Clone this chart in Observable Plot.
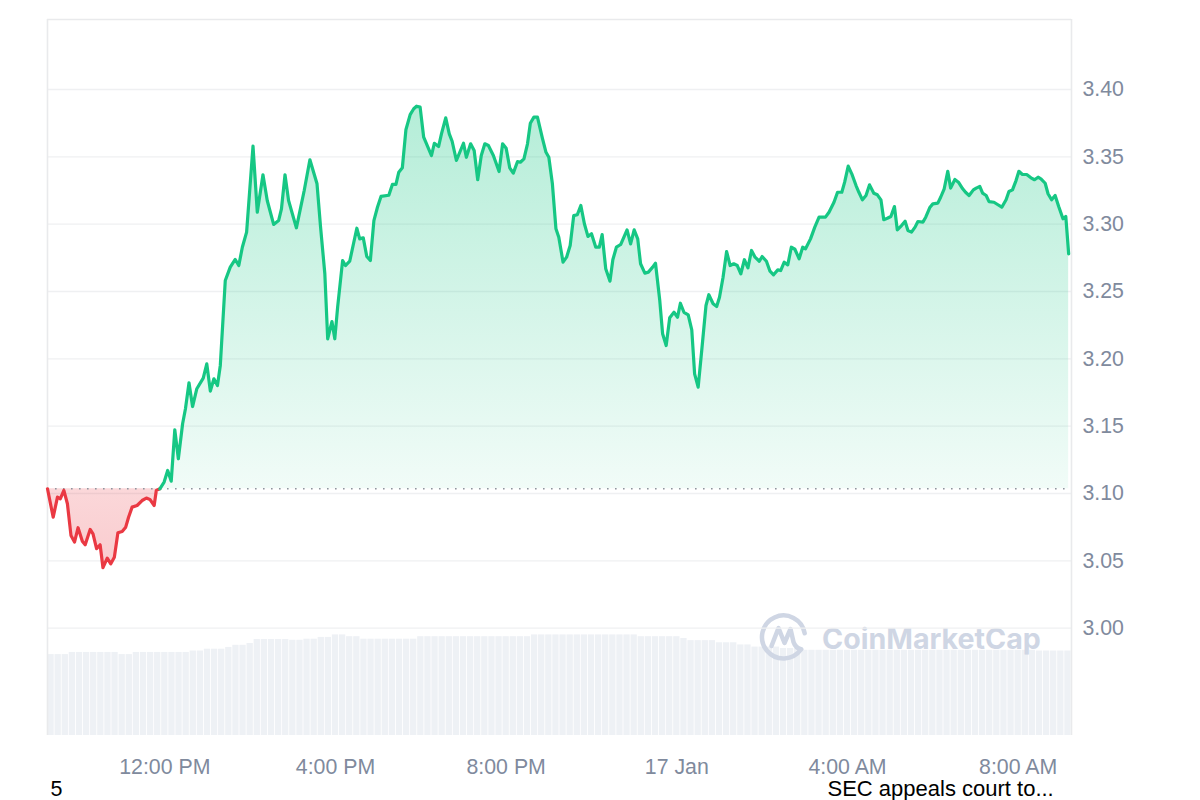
<!DOCTYPE html>
<html><head><meta charset="utf-8">
<script src="https://cdn.jsdelivr.net/npm/d3@7"></script>
<script src="https://cdn.jsdelivr.net/npm/@observablehq/plot@0.6"></script>
<style>
html,body{margin:0;padding:0;background:#fff;}
#wrap{position:relative;width:1200px;height:800px;overflow:hidden;}
#wrap > svg{position:absolute;left:0;top:0;}
</style></head><body><div id="wrap"></div>
<script>
// ---- data ----
const startTime = Date.UTC(2025, 0, 16, 9, 15);   // left edge of the chart
const endTime = Date.UTC(2025, 0, 17, 9, 15);     // right edge of the chart

// minutes after startTime
const minutes = [
  0, 8, 14, 18, 23, 28, 33, 38, 43, 49,
  53, 60, 64, 69, 74, 78, 84, 89, 94, 99,
  105, 110, 114, 119, 126, 133, 139, 144, 150, 153,
  158, 164, 169, 174, 179, 184, 190, 194, 199, 204,
  210, 219, 224, 229, 234, 239, 243, 250, 257, 264,
  269, 274, 280, 289, 295, 303, 309, 318, 325, 329,
  334, 339, 350, 361, 369, 379, 384, 390, 394, 400,
  404, 408, 415, 419, 425, 435, 439, 444, 449, 454,
  459, 464, 469, 480, 485, 490, 494, 499, 504, 510,
  515, 519, 524, 529, 540, 544, 550, 554, 560, 565,
  569, 575, 585, 589, 595, 600, 605, 610, 615, 620,
  627, 635, 640, 645, 650, 655, 661, 665, 670, 675,
  679, 684, 689, 696, 701, 705, 710, 715, 719, 725,
  730, 735, 740, 745, 750, 755, 760, 765, 771, 776,
  780, 785, 791, 795, 800, 806, 815, 820, 825, 830,
  834, 840, 845, 851, 855, 861, 865, 870, 875, 881,
  886, 890, 895, 901, 906, 910, 915, 920, 926, 930,
  936, 941, 945, 950, 955, 960, 965, 970, 975, 980,
  985, 990, 995, 1001, 1005, 1011, 1016, 1021, 1027, 1031,
  1036, 1041, 1046, 1051, 1057, 1062, 1066, 1073, 1079, 1085,
  1094, 1099, 1106, 1111, 1117, 1121, 1126, 1131, 1137, 1141,
  1146, 1151, 1156, 1162, 1167, 1172, 1176, 1181, 1186, 1191,
  1195, 1201, 1206, 1210, 1215, 1220, 1224, 1231, 1235, 1241,
  1245, 1252, 1256, 1261, 1266, 1270, 1276, 1281, 1287, 1291,
  1296, 1302, 1306, 1311, 1315, 1320, 1324, 1331, 1336, 1342,
  1348, 1352, 1357, 1362, 1366, 1371, 1377, 1383, 1388, 1393,
  1397, 1403, 1407, 1412, 1417, 1422, 1428, 1432, 1436
];

// price (USD)
const prices = [
  3.1035, 3.0824, 3.0973, 3.0961, 3.1023, 3.0924, 3.0689, 3.0639, 3.0746, 3.0646,
  3.0619, 3.0733, 3.0701, 3.0590, 3.0619, 3.0449, 3.0520, 3.0478, 3.0527, 3.0709,
  3.0718, 3.0750, 3.0824, 3.0899, 3.0911, 3.0948, 3.0966, 3.0956, 3.0911, 3.1023,
  3.1035, 3.1085, 3.1171, 3.1092, 3.1473, 3.1258, 3.1518, 3.1629, 3.1822, 3.1646,
  3.1778, 3.1857, 3.1963, 3.1760, 3.1852, 3.1802, 3.1951, 3.2582, 3.2681, 3.2738,
  3.2693, 3.2829, 3.2941, 3.3579, 3.3089, 3.3367, 3.3176, 3.2998, 3.3027, 3.3114,
  3.3367, 3.3176, 3.2973, 3.3250, 3.3478, 3.3300, 3.2978, 3.2632, 3.2149, 3.2277,
  3.2149, 3.2384, 3.2730, 3.2693, 3.2725, 3.2970, 3.2891, 3.2899, 3.2760, 3.2730,
  3.3027, 3.3126, 3.3206, 3.3215, 3.3295, 3.3295, 3.3386, 3.3419, 3.3701, 3.3814,
  3.3857, 3.3876, 3.3869, 3.3646, 3.3510, 3.3601, 3.3577, 3.3671, 3.3790, 3.3671,
  3.3616, 3.3473, 3.3601, 3.3497, 3.3597, 3.3547, 3.3330, 3.3510, 3.3597, 3.3584,
  3.3510, 3.3391, 3.3597, 3.3564, 3.3419, 3.3379, 3.3465, 3.3460, 3.3485, 3.3597,
  3.3750, 3.3795, 3.3795, 3.3638, 3.3534, 3.3497, 3.3300, 3.2966, 3.2903, 3.2718,
  3.2755, 3.2842, 3.3064, 3.3070, 3.3139, 3.3003, 3.2909, 3.2929, 3.2829, 3.2829,
  3.2923, 3.2669, 3.2577, 3.2736, 3.2829, 3.2849, 3.2958, 3.2854, 3.2958, 3.2891,
  3.2706, 3.2636, 3.2644, 3.2681, 3.2710, 3.2433, 3.2186, 3.2099, 3.2305, 3.2346,
  3.2309, 3.2413, 3.2346, 3.2327, 3.2216, 3.1889, 3.1790, 3.2062, 3.2396, 3.2476,
  3.2409, 3.2389, 3.2458, 3.2606, 3.2797, 3.2693, 3.2706, 3.2693, 3.2632, 3.2736,
  3.2676, 3.2805, 3.2755, 3.2725, 3.2760, 3.2725, 3.2651, 3.2624, 3.2661, 3.2656,
  3.2718, 3.2698, 3.2829, 3.2814, 3.2743, 3.2829, 3.2817, 3.2891, 3.2978, 3.3052,
  3.3052, 3.3089, 3.3163, 3.3237, 3.3237, 3.3312, 3.3431, 3.3374, 3.3287, 3.3237,
  3.3181, 3.3213, 3.3292, 3.3230, 3.3218, 3.3181, 3.3033, 3.3044, 3.3057, 3.3131,
  3.2958, 3.2990, 3.3022, 3.2953, 3.2941, 3.2978, 3.3020, 3.3015, 3.3052, 3.3126,
  3.3151, 3.3156, 3.3200, 3.3263, 3.3393, 3.3268, 3.3332, 3.3312, 3.3263, 3.3237,
  3.3213, 3.3255, 3.3268, 3.3280, 3.3230, 3.3213, 3.3168, 3.3163, 3.3146, 3.3126,
  3.3181, 3.3243, 3.3255, 3.3324, 3.3393, 3.3369, 3.3369, 3.3344, 3.3330, 3.3349,
  3.3337, 3.3304, 3.3226, 3.3181, 3.3213, 3.3131, 3.3040, 3.3057, 3.2780
];

// 24h trading volume, one value per 10-minute bucket (relative units)
const volumes = [
  11.3, 11.3, 11.3, 11.6, 11.6, 11.6, 11.6, 11.6, 11.6, 11.6,
  11.3, 11.3, 11.6, 11.6, 11.6, 11.6, 11.6, 11.6, 11.6, 11.6,
  11.8, 11.8, 12.05, 12.05, 12.05, 12.3, 12.6, 12.6, 12.85, 13.4,
  13.4, 13.4, 13.4, 13.4, 13.3, 13.3, 13.45, 13.45, 13.7, 13.7,
  14.05, 14.05, 13.8, 13.8, 13.45, 13.45, 13.45, 13.45, 13.45, 13.45,
  13.45, 13.45, 13.8, 13.8, 13.8, 13.8, 13.8, 13.8, 13.8, 13.8,
  13.8, 13.8, 13.8, 13.8, 13.8, 13.8, 13.8, 13.8, 14.05, 14.05,
  14.05, 14.05, 14.05, 14.05, 14.05, 14.05, 14.05, 14.05, 14.05, 14.05,
  14.05, 14.05, 14.05, 13.8, 13.8, 13.8, 13.8, 13.8, 13.8, 13.55,
  13.25, 13.25, 13.25, 13.25, 12.95, 12.95, 12.95, 12.65, 12.65, 12.35,
  12.35, 12.35, 12.35, 12.15, 12.15, 12.15, 11.9, 11.9, 11.9, 11.9,
  11.9, 11.9, 11.9, 11.9, 11.9, 11.9, 11.9, 11.9, 11.9, 11.9,
  11.9, 11.9, 11.9, 11.9, 11.9, 11.9, 11.9, 11.9, 11.9, 11.9,
  11.9, 11.9, 11.9, 11.9, 11.9, 11.9, 11.9, 11.9, 11.9, 11.8,
  11.8, 11.8, 11.8, 11.8
];

const yTicks = [3.00, 3.05, 3.10, 3.15, 3.20, 3.25, 3.30, 3.35, 3.40];
const xTickTimes = ["2025-01-16T12:00Z", "2025-01-16T16:00Z", "2025-01-16T20:00Z",
                    "2025-01-17T00:00Z", "2025-01-17T04:00Z", "2025-01-17T08:00Z"];
const xTickLabels = ["12:00 PM", "4:00 PM", "8:00 PM", "17 Jan", "4:00 AM", "8:00 AM"];
const footerLeft = "5";
const footerNews = "SEC appeals court to...";
const watermark = "CoinMarketCap";

// ---- layout / style ----
const W = 1200, H = 800;
const M = {left: 47, right: 129, top: 19, bottom: 65};
const yDomain = [2.9203, 3.452];
const GREEN = "#16c784", RED = "#ea3943", TICK = "#808a9d";
const FONT = "'Liberation Sans', Arial, Helvetica, sans-serif";

const data = minutes.map((m, i) => ({time: new Date(startTime + m * 60000), price: prices[i]}));
const baseline = prices[0];
let lastBelow = -1;
data.forEach((d, i) => { if (d.price < baseline) lastBelow = i; });
const redPart = data.slice(0, lastBelow + 2);
const greenPart = data.slice(lastBelow + 1);
const tickDates = xTickTimes.map(s => new Date(s));
const tickLabel = new Map(tickDates.map((d, i) => [+d, xTickLabels[i]]));
const xDomain = [new Date(startTime), new Date(endTime)];
const bucket = 10 * 60000;

const wrap = document.getElementById("wrap");

// volume layer
const volPlot = Plot.plot({
  width: W, height: H,
  marginLeft: M.left, marginRight: M.right, marginTop: M.top, marginBottom: M.bottom,
  x: {type: "utc", domain: xDomain, axis: null},
  y: {domain: [0, 100], axis: null},
  style: {background: "transparent"},
  marks: [
    Plot.rectY(volumes, {
      x1: (d, i) => new Date(startTime + i * bucket),
      x2: (d, i) => new Date(startTime + (i + 1) * bucket),
      y: d => d,
      fill: "#eef1f5",
      insetLeft: 0.4, insetRight: 0.4
    })
  ]
});
wrap.appendChild(volPlot);

// watermark layer
const wm = d3.create("svg").attr("width", W).attr("height", H);
const logo = wm.append("g").attr("transform", "translate(783.5,637)")
  .attr("fill", "none").attr("stroke", "#cfd6e4").attr("stroke-width", 4.5)
  .attr("stroke-linecap", "round").attr("stroke-linejoin", "round");
logo.append("path").attr("d", "M 17.6 12.3 A 21.5 21.5 0 1 1 21.2 -3.7");
logo.append("path").attr("d", "M -12 9 L -5 -9 L 1 6 L 7 -8 L 10 5 Q 12 11 17.6 12.3");
wm.append("text").attr("x", 822).attr("y", 649)
  .attr("font-family", "Inter, 'Liberation Sans', sans-serif").attr("font-weight", 700)
  .attr("font-size", 28.6).attr("fill", "#cfd6e4").text(watermark);
wrap.appendChild(wm.node());

// price layer
const defs = () => {
  const g = d3.create("svg:defs");
  const gg = g.append("linearGradient").attr("id", "gGreen").attr("x1", 0).attr("x2", 0).attr("y1", 0).attr("y2", 1);
  gg.append("stop").attr("offset", 0).attr("stop-color", GREEN).attr("stop-opacity", 0.32);
  gg.append("stop").attr("offset", 1).attr("stop-color", GREEN).attr("stop-opacity", 0.06);
  const gr = g.append("linearGradient").attr("id", "gRed").attr("x1", 0).attr("x2", 0).attr("y1", 0).attr("y2", 1);
  gr.append("stop").attr("offset", 0).attr("stop-color", RED).attr("stop-opacity", 0.2);
  gr.append("stop").attr("offset", 1).attr("stop-color", RED).attr("stop-opacity", 0.26);
  return g.node();
};

const pricePlot = Plot.plot({
  width: W, height: H,
  marginLeft: M.left, marginRight: M.right, marginTop: M.top, marginBottom: M.bottom,
  x: {type: "utc", domain: xDomain},
  y: {domain: yDomain},
  style: {background: "transparent", fontFamily: FONT, fontSize: "21px", overflow: "visible"},
  marks: [
    defs,
    Plot.ruleY(yTicks, {stroke: "#eff0f2", strokeWidth: 1.3}),
    Plot.ruleY([yDomain[1]], {stroke: "#e9eaec", strokeWidth: 1.6}),
    Plot.ruleX(xDomain, {stroke: "#e9eaec", strokeWidth: 1.6}),
    Plot.areaY(data, {x: "time", y1: baseline, y2: d => Math.max(d.price, baseline), fill: "url(#gGreen)", curve: "linear"}),
    Plot.areaY(data, {x: "time", y1: baseline, y2: d => Math.min(d.price, baseline), fill: "url(#gRed)", curve: "linear"}),
    Plot.ruleY([baseline], {x1: xDomain[0], x2: data[data.length - 1].time, stroke: "#8f959e", strokeWidth: 1.6, strokeDasharray: "1.6,6.4"}),
    Plot.line(redPart, {x: "time", y: "price", stroke: RED, strokeWidth: 3.2, strokeLinejoin: "round", strokeLinecap: "round"}),
    Plot.line(greenPart, {x: "time", y: "price", stroke: GREEN, strokeWidth: 3.2, strokeLinejoin: "round", strokeLinecap: "round"}),
    Plot.axisY(yTicks, {anchor: "right", tickSize: 0, tickPadding: 11, tickFormat: d3.format(".2f"), color: TICK, fill: TICK, label: null, fontSize: 21.3}),
    Plot.axisX(tickDates, {anchor: "bottom", tickSize: 0, tickPadding: 23, tickFormat: d => tickLabel.get(+d), color: TICK, fill: TICK, label: null, fontSize: 21.3}),
    Plot.text([footerLeft], {frameAnchor: "bottom-left", dx: 3, dy: 60, textAnchor: "start", lineAnchor: "bottom", fill: "#000", fontSize: 21.5}),
    Plot.text([footerNews], {frameAnchor: "bottom-left", dx: 780, dy: 60, textAnchor: "start", lineAnchor: "bottom", fill: "#000", fontSize: 22})
  ]
});
wrap.appendChild(pricePlot);
</script>
</body></html>
